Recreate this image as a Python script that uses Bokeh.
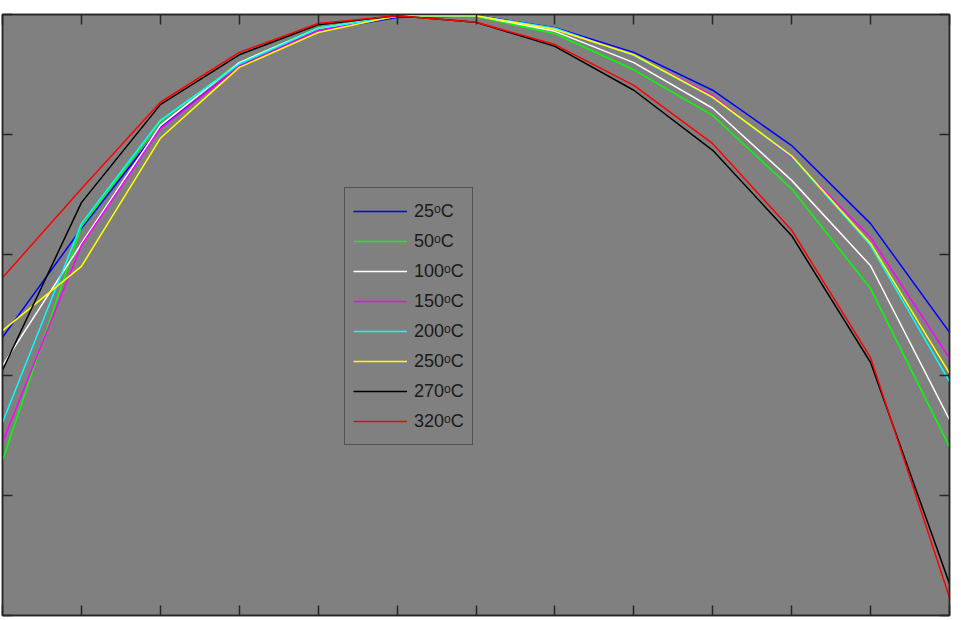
from bokeh.plotting import figure
from bokeh.models import Range1d, FixedTicker, LinearAxis, Legend, LegendItem, CustomLabelingPolicy
from bokeh.embed import file_html
from bokeh.resources import INLINE

# positions along the profile (tick index)
x_pos = [0, 1, 2, 3, 4, 5, 6, 7, 8, 9, 10, 11, 12]

# normalised profiles for each temperature
t25 = [0.463, 0.644, 0.812, 0.913, 0.973, 0.995, 0.998, 0.978, 0.937, 0.874, 0.782, 0.652, 0.471]
t50 = [0.258, 0.647, 0.822, 0.920, 0.978, 0.997, 0.997, 0.968, 0.908, 0.832, 0.710, 0.544, 0.281]
t100 = [0.416, 0.619, 0.815, 0.920, 0.977, 0.997, 0.998, 0.972, 0.920, 0.844, 0.724, 0.582, 0.326]
t150 = [0.288, 0.616, 0.810, 0.913, 0.973, 0.997, 0.998, 0.977, 0.932, 0.865, 0.762, 0.629, 0.428]
t200 = [0.321, 0.652, 0.824, 0.918, 0.977, 0.997, 0.998, 0.977, 0.932, 0.862, 0.764, 0.616, 0.389]
t250 = [0.474, 0.581, 0.794, 0.912, 0.970, 0.998, 0.998, 0.975, 0.933, 0.862, 0.765, 0.619, 0.403]
t270 = [0.408, 0.687, 0.850, 0.933, 0.983, 0.998, 0.987, 0.947, 0.874, 0.774, 0.632, 0.421, 0.053]
t320 = [0.562, 0.710, 0.854, 0.937, 0.985, 0.998, 0.987, 0.950, 0.882, 0.785, 0.641, 0.429, 0.030]

labels = ["25ᵒC", "50ᵒC", "100ᵒC", "150ᵒC", "200ᵒC", "250ᵒC", "270ᵒC", "320ᵒC"]
series = [t25, t50, t100, t150, t200, t250, t270, t320]
colors = ["#0000ff", "#00ff00", "#ffffff", "#ff00ff", "#00ffff", "#ffff00", "#000000", "#ff0000"]

x_ticks = [0, 1, 2, 3, 4, 5, 6, 7, 8, 9, 10, 11, 12]
y_ticks = [0, 0.2, 0.4, 0.6, 0.8, 1.0]

p = figure(width=961, height=620, output_backend="svg", toolbar_location=None,
           x_range=Range1d(0, 12), y_range=Range1d(0, 1),
           x_axis_location=None, y_axis_location=None,
           min_border_left=2, min_border_right=12, min_border_top=14, min_border_bottom=5)
p.background_fill_color = "#808080"
p.border_fill_color = "#ffffff"
p.outline_line_color = "#262626"
p.outline_line_width = 1.5
p.grid.visible = False

no_labels = CustomLabelingPolicy(code="for (const i of indices) { indices.unset(i) }\nreturn indices")

for side, ticks in (("below", x_ticks), ("above", x_ticks), ("left", y_ticks), ("right", y_ticks)):
    ax = LinearAxis(ticker=FixedTicker(ticks=ticks))
    ax.major_tick_in = 10
    ax.major_tick_out = 0
    ax.minor_tick_in = 0
    ax.minor_tick_out = 0
    ax.major_tick_line_color = "#262626"
    ax.major_tick_line_width = 1.5
    ax.axis_line_color = "#262626"
    ax.axis_line_width = 1.5
    ax.major_label_text_font_size = "0px"
    ax.major_label_standoff = 0
    ax.major_label_policy = no_labels
    p.add_layout(ax, side)

items = []
for lab, ys, c in zip(labels, series, colors):
    r = p.line(x_pos, ys, line_color=c, line_width=1.5)
    items.append(LegendItem(label=lab, renderers=[r]))

legend = Legend(items=items, location=(342, 170))
legend.background_fill_color = "#808080"
legend.background_fill_alpha = 1.0
legend.border_line_color = "#262626"
legend.border_line_width = 1.2
legend.label_text_font = "Liberation Sans"
legend.label_text_font_size = "18px"
legend.label_text_color = "#1a1a1a"
legend.glyph_width = 54
legend.glyph_height = 30
legend.label_height = 30
legend.label_standoff = 7
legend.spacing = 0
legend.padding = 8
legend.margin = 0
p.add_layout(legend, "center")

open("out.html", "w").write(file_html(p, INLINE))
